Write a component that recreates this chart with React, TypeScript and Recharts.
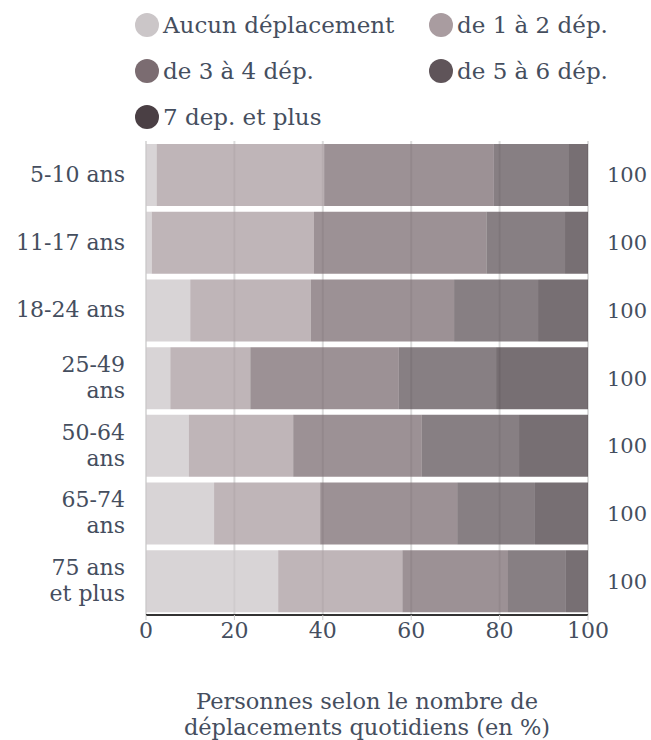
import { BarChart, Bar, XAxis, YAxis, CartesianGrid, LabelList } from "recharts";

const ageGroups = [
  "5-10 ans",
  "11-17 ans",
  "18-24 ans",
  "25-49\nans",
  "50-64\nans",
  "65-74\nans",
  "75 ans\net plus",
];
const aucun = [2.4, 1.3, 10.0, 5.5, 9.7, 15.4, 29.9];
const dep1a2 = [37.9, 36.7, 27.3, 18.1, 23.6, 24.0, 28.1];
const dep3a4 = [38.4, 39.1, 32.4, 33.6, 29.1, 31.0, 23.9];
const dep5a6 = [17.0, 17.7, 19.0, 22.0, 22.0, 17.6, 13.1];
const dep7plus = [4.3, 5.2, 11.3, 20.8, 15.6, 12.0, 5.0];
const totals = [100, 100, 100, 100, 100, 100, 100];

const xTicks = [0, 20, 40, 60, 80, 100];

const seriesKeys = ["aucun", "dep1a2", "dep3a4", "dep5a6", "dep7plus"];
const seriesNames = [
  "Aucun déplacement",
  "de 1 à 2 dép.",
  "de 3 à 4 dép.",
  "de 5 à 6 dép.",
  "7 dep. et plus",
];
const seriesColors = ["#cbc6c8", "#a99ca0", "#7b6c71", "#5f5459", "#4a3f44"];

const data = ageGroups.map((age, i) => ({
  age,
  aucun: aucun[i],
  dep1a2: dep1a2[i],
  dep3a4: dep3a4[i],
  dep5a6: dep5a6[i],
  dep7plus: dep7plus[i],
  total: totals[i],
}));

const FONT = "'DejaVu Serif', serif";
const TEXT = "#454e5e";

function AgeTick(props: any) {
  const { x, y, payload } = props;
  const lines = String(payload.value).split("\n");
  const lh = 26;
  return (
    <text
      x={x}
      y={y}
      textAnchor="end"
      fill={TEXT}
      fontSize={22}
      fontFamily={FONT}
    >
      {lines.map((l, i) => (
        <tspan
          key={i}
          x={x}
          dy={i === 0 ? -((lines.length - 1) * lh) / 2 + 7 : lh}
        >
          {l}
        </tspan>
      ))}
    </text>
  );
}

function AxisTitle(props: any) {
  const { viewBox } = props;
  if (!viewBox) return null;
  const cx = viewBox.x + viewBox.width / 2;
  return (
    <text
      x={cx}
      y={viewBox.y}
      textAnchor="middle"
      fill={TEXT}
      fontSize={22.5}
      fontFamily={FONT}
    >
      <tspan x={cx} dy={94}>
        Personnes selon le nombre de
      </tspan>
      <tspan x={cx} dy={26}>
        déplacements quotidiens (en %)
      </tspan>
    </text>
  );
}

function TopLegend() {
  return (
    <div style={{ position: "absolute", left: 0, top: 0, width: 651, height: 140 }}>
      {seriesNames.map((name, i) => {
        const col = i % 2;
        const row = Math.floor(i / 2);
        return (
          <div
            key={name}
            style={{
              position: "absolute",
              left: col === 0 ? 135 : 429,
              top: 12 + row * 46,
              display: "flex",
              alignItems: "center",
              fontFamily: FONT,
              fontSize: 23,
              color: TEXT,
              whiteSpace: "nowrap",
            }}
          >
            <span
              style={{
                display: "inline-block",
                width: 24,
                height: 24,
                borderRadius: "50%",
                background: seriesColors[i],
                marginRight: 4,
              }}
            />
            {name}
          </div>
        );
      })}
    </div>
  );
}

export default function App() {
  return (
    <div
      style={{
        position: "absolute",
        left: 0,
        top: 0,
        width: 651,
        height: 740,
        background: "#fff",
      }}
    >
      <TopLegend />
      <div style={{ position: "absolute", left: 0, top: 0 }}>
        <BarChart
          width={651}
          height={740}
          data={data}
          layout="vertical"
          margin={{ top: 141, right: 63, bottom: 85, left: 0 }}
        >
          <CartesianGrid horizontal={false} vertical stroke="#dcdcdc" strokeWidth={2} />
          <XAxis
            type="number"
            domain={[0, 100]}
            ticks={xTicks}
            height={40}
            axisLine={{ stroke: "#333", strokeWidth: 2 }}
            tickLine={{ stroke: "#ccc" }}
            tickSize={5}
            tick={{ fill: TEXT, fontSize: 22, fontFamily: FONT }}
            label={<AxisTitle />}
          />
          <YAxis
            type="category"
            dataKey="age"
            width={146}
            axisLine={false}
            tickLine={false}
            tickSize={0}
            tickMargin={21}
            tick={<AgeTick />}
            interval={0}
          />
          {seriesKeys.map((k, i) => (
            <Bar
              key={k}
              dataKey={k}
              name={seriesNames[i]}
              stackId="a"
              fill={seriesColors[i]}
              fillOpacity={0.75}
              barSize={62}
              isAnimationActive={false}
            >
              {i === seriesKeys.length - 1 && (
                <LabelList
                  dataKey="total"
                  position="right"
                  offset={19}
                  fill={TEXT}
                  fontSize={21}
                  fontFamily={FONT}
                />
              )}
            </Bar>
          ))}
        </BarChart>
      </div>
    </div>
  );
}
